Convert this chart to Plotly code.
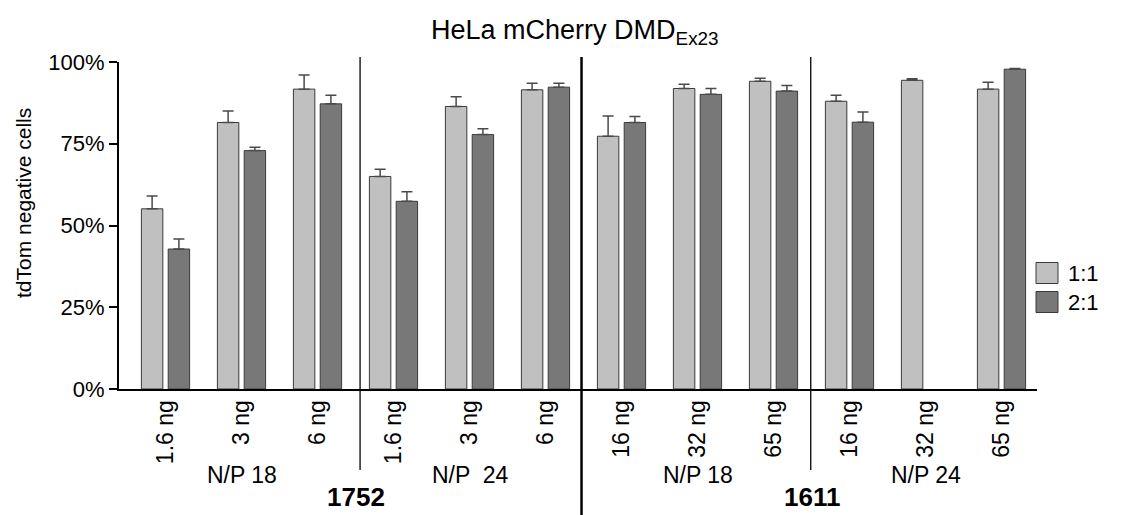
import plotly.graph_objects as go

# ---- data ----
compounds = ["1752", "1611"]
np_groups = ["N/P 18", "N/P  24", "N/P 18", "N/P 24"]
doses = ["1.6 ng", "3 ng", "6 ng", "1.6 ng", "3 ng", "6 ng",
         "16 ng", "32 ng", "65 ng", "16 ng", "32 ng", "65 ng"]
ratio_1_1 = [55.1, 81.5, 91.7, 65.0, 86.4, 91.5, 77.3, 91.9, 94.1, 88.0, 94.4, 91.7]
err_1_1 = [3.9, 3.5, 4.3, 2.2, 3.0, 2.0, 6.2, 1.3, 0.9, 1.8, 0.5, 2.1]
ratio_2_1 = [42.8, 72.9, 87.2, 57.4, 77.8, 92.3, 81.5, 90.1, 91.1, 81.6, None, 97.8]
err_2_1 = [3.1, 1.0, 2.6, 2.9, 1.8, 1.2, 1.8, 1.8, 1.7, 3.1, 0.0, 0.2]
y_ticks = [0, 25, 50, 75, 100]
y_tick_labels = ["0%", "25%", "50%", "75%", "100%"]

# unique category keys
keys = []
for i, d in enumerate(doses):
    g = i // 3
    keys.append(f"{compounds[g // 2]}|{np_groups[g]}|{d}")

FONT = "Liberation Sans, Arial, sans-serif"
LIGHT = "#C0C0C0"
DARK = "#787878"
EDGE = "#3a3a3a"

fig = go.Figure()
fig.add_trace(go.Bar(
    x=keys, y=ratio_1_1, name="1:1",
    marker=dict(color=LIGHT, line=dict(color=EDGE, width=1)),
    error_y=dict(type="data", array=err_1_1, arrayminus=[0] * 12, symmetric=False,
                 color="#4a4a4a", thickness=1.5, width=5.5),
    showlegend=False,
))
fig.add_trace(go.Bar(
    x=keys, y=ratio_2_1, name="2:1",
    marker=dict(color=DARK, line=dict(color=EDGE, width=1)),
    error_y=dict(type="data", array=err_2_1, arrayminus=[0] * 12, symmetric=False,
                 color="#4a4a4a", thickness=1.5, width=5.5),
    showlegend=False,
))

H_PLOT = 327.0
W_PLOT = 918.0
def py(px):  # pixel y -> paper y
    return (389.0 - px) / H_PLOT
def pxp(px):  # pixel x -> paper x
    return (px - 119.0) / W_PLOT

shapes = []
# separators (category coordinates)
for xc, y0, w in [(2.56, 470, 1.3), (5.474, 515, 2.5), (8.49, 470, 1.3)]:
    shapes.append(dict(type="line", xref="x", yref="paper", x0=xc, x1=xc,
                       y0=py(57), y1=py(y0), line=dict(color="black", width=w)))

annotations = []
for g, lab in enumerate(np_groups):
    annotations.append(dict(x=3 * g + 1, y=py(475), xref="x", yref="paper", text=lab,
                            showarrow=False, font=dict(family=FONT, size=23, color="black"),
                            xanchor="center", yanchor="middle"))
for c, lab in enumerate(compounds):
    annotations.append(dict(x=2.5 + 6 * c, y=py(514), xref="x", yref="paper",
                            text=f"<b>{lab}</b>", showarrow=False,
                            font=dict(family=FONT, size=26, color="black"),
                            xanchor="center", yanchor="bottom"))
# title
annotations.append(dict(x=pxp(575), y=py(32), xref="paper", yref="paper",
                        text="HeLa mCherry DMD<sub>Ex23</sub>", showarrow=False,
                        font=dict(family=FONT, size=27, color="black"),
                        xanchor="center", yanchor="middle"))
# y title
annotations.append(dict(x=pxp(23), y=py(203), xref="paper", yref="paper",
                        text="tdTom negative cells", textangle=-90, showarrow=False,
                        font=dict(family=FONT, size=21, color="black"),
                        xanchor="center", yanchor="middle"))

# legend drawn as boxes + labels
for i, (lab, col) in enumerate([("1:1", LIGHT), ("2:1", DARK)]):
    cy = 273 + 29 * i
    shapes.append(dict(type="rect", xref="paper", yref="paper",
                       x0=pxp(1036), x1=pxp(1058),
                       y0=py(cy + 10.5), y1=py(cy - 10.5),
                       fillcolor=col, line=dict(color=EDGE, width=1)))
    annotations.append(dict(x=pxp(1066), y=py(cy), xref="paper", yref="paper",
                            text=lab, showarrow=False, xanchor="left", yanchor="middle",
                            font=dict(family=FONT, size=22, color="black")))

fig.update_layout(
    width=1132, height=515,
    margin=dict(l=119, r=95, t=62, b=126, autoexpand=False),
    paper_bgcolor="white", plot_bgcolor="white",
    barmode="group", bargap=0.295, bargroupgap=0.2,
    font=dict(family=FONT, color="black"),
    shapes=shapes, annotations=annotations,
    xaxis=dict(
        type="category", range=[-0.612, 11.467],
        tickvals=keys, ticktext=doses, tickangle=-90,
        tickfont=dict(family=FONT, size=23, color="black"),
        showline=True, linecolor="black", linewidth=2,
        ticks="", showgrid=False, zeroline=False, fixedrange=True,
    ),
    yaxis=dict(
        range=[0, 100], tickmode="array", tickvals=y_ticks, ticktext=y_tick_labels,
        tickfont=dict(family=FONT, size=22, color="black"),
        showline=True, linecolor="black", linewidth=2,
        ticks="outside", ticklen=8, tickwidth=2, tickcolor="black",
        showgrid=False, zeroline=False, fixedrange=True,
    ),
)

fig.write_html("out.html")
